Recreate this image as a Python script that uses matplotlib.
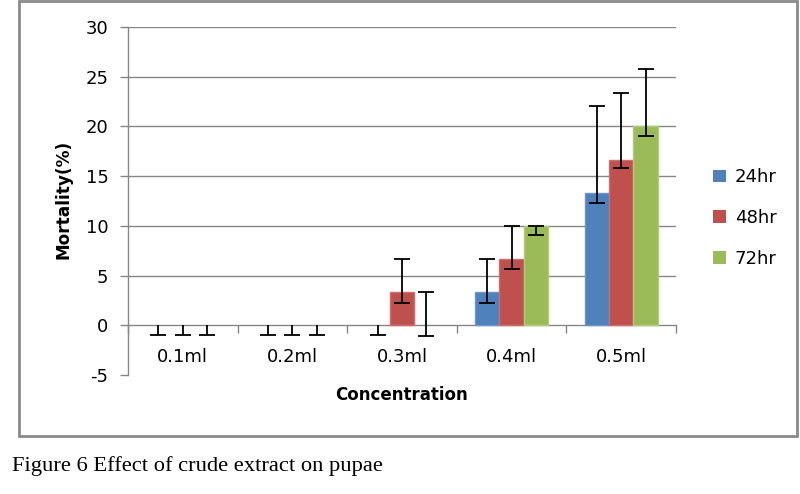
import matplotlib
matplotlib.use("Agg")
import matplotlib.pyplot as plt
import numpy as np
from matplotlib.patches import Rectangle

categories = ["0.1ml", "0.2ml", "0.3ml", "0.4ml", "0.5ml"]
series = ["24hr", "48hr", "72hr"]
h24 = [0, 0, 0, 3.33, 13.33]
h48 = [0, 0, 3.33, 6.67, 16.67]
h72 = [0, 0, 0, 10.0, 20.0]
up24 = [0, 0, 0, 3.33, 8.7]
up48 = [0, 0, 3.33, 3.33, 6.67]
up72 = [0, 0, 3.33, 0, 5.8]
lo24 = [1.0, 1.0, 1.0, 1.08, 1.06]
lo48 = [1.0, 1.0, 1.08, 1.0, 0.9]
lo72 = [1.0, 1.0, 1.05, 0.9, 0.95]
yticks = [-5, 0, 5, 10, 15, 20, 25, 30]

colors = ["#4F81BD", "#C0504D", "#9BBB59"]
edges = ["#6A96CC", "#CC6F6C", "#B0CB7A"]
grey = "#868686"
font = "DejaVu Sans"

fig = plt.figure(figsize=(8, 4.94), dpi=100)
ax = fig.add_axes([0.16, 0.2409, 0.685, 0.7044])

x = np.arange(len(categories))
w = 1 / 4.5
vals = [h24, h48, h72]
ups = [up24, up48, up72]
los = [lo24, lo48, lo72]
handles = []
for i in range(3):
    pos = x + (i - 1) * w
    v = np.array(vals[i], dtype=float)
    up = np.array(ups[i], dtype=float)
    lo = np.array(los[i], dtype=float)
    lw = [1.0 if val > 0 else 0.0 for val in v]
    b = ax.bar(pos, v, width=w, color=colors[i], edgecolor=edges[i],
               linewidth=lw, label=series[i], zorder=3)
    handles.append(b)
    ax.errorbar(pos, v, yerr=[lo, up], fmt="none", ecolor="black",
                elinewidth=1.3, capsize=0, zorder=4)
    ax.plot(pos, v - lo, linestyle="none", marker="_", markersize=12,
            markeredgewidth=1.3, color="black", zorder=4)
    top = v + up
    m = top > 0
    ax.plot(pos[m], top[m], linestyle="none", marker="_", markersize=12,
            markeredgewidth=1.3, color="black", zorder=4)

ax.set_xlim(-0.5, len(categories) - 0.5)
ax.set_ylim(-5, 30)
ax.set_yticks(yticks)
ax.set_yticklabels([str(t) for t in yticks])
for t in yticks:
    if t > 0:
        ax.axhline(t, color=grey, linewidth=1.0, zorder=1)

for s in ["top", "right"]:
    ax.spines[s].set_visible(False)
ax.spines["left"].set_color(grey)
ax.spines["left"].set_linewidth(1.0)
ax.spines["bottom"].set_position(("data", 0))
ax.spines["bottom"].set_color(grey)
ax.spines["bottom"].set_linewidth(1.0)
ax.spines["bottom"].set_zorder(2)

ax.set_xticks(np.arange(-0.5, len(categories), 1.0))
ax.set_xticklabels([])
ax.set_xticks(x, minor=True)
ax.set_xticklabels(categories, minor=True)
ax.tick_params(axis="x", which="major", direction="out", length=6, color=grey, width=1.0)
ax.tick_params(axis="x", which="minor", length=0, pad=16, labelsize=13, labelcolor="#000000")
ax.tick_params(axis="y", direction="out", length=6, color=grey, width=1.0,
               labelsize=13, pad=8)
for lab in ax.get_xticklabels(minor=True) + ax.get_yticklabels():
    lab.set_fontfamily(font)

fig.text(0.0788, 0.597, "Mortality(%)", rotation=90, ha="center", va="center",
         fontsize=12.2, fontweight="bold", family=font)
fig.text(0.5025, 0.2004, "Concentration", ha="center", va="center",
         fontsize=12.0, fontweight="bold", family=font)

ax.legend(handles=handles, labels=series, loc="center left",
          bbox_to_anchor=(1.038, 0.451), frameon=False,
          handlelength=0.7, handleheight=0.7, handletextpad=0.5,
          labelspacing=1.25, prop={"family": font, "size": 13})

frame = Rectangle((19 / 800, 1 - 436 / 494), 778 / 800, 435 / 494,
                  transform=fig.transFigure, fill=False, edgecolor="#8A8A8A",
                  linewidth=2.0)
fig.add_artist(frame)

fig.text(12 / 800, 1 - 466 / 494, "Figure 6 Effect of crude extract on pupae",
         ha="left", va="center", fontsize=16.2, family="Liberation Serif")

fig.savefig("out.png", dpi=100)
